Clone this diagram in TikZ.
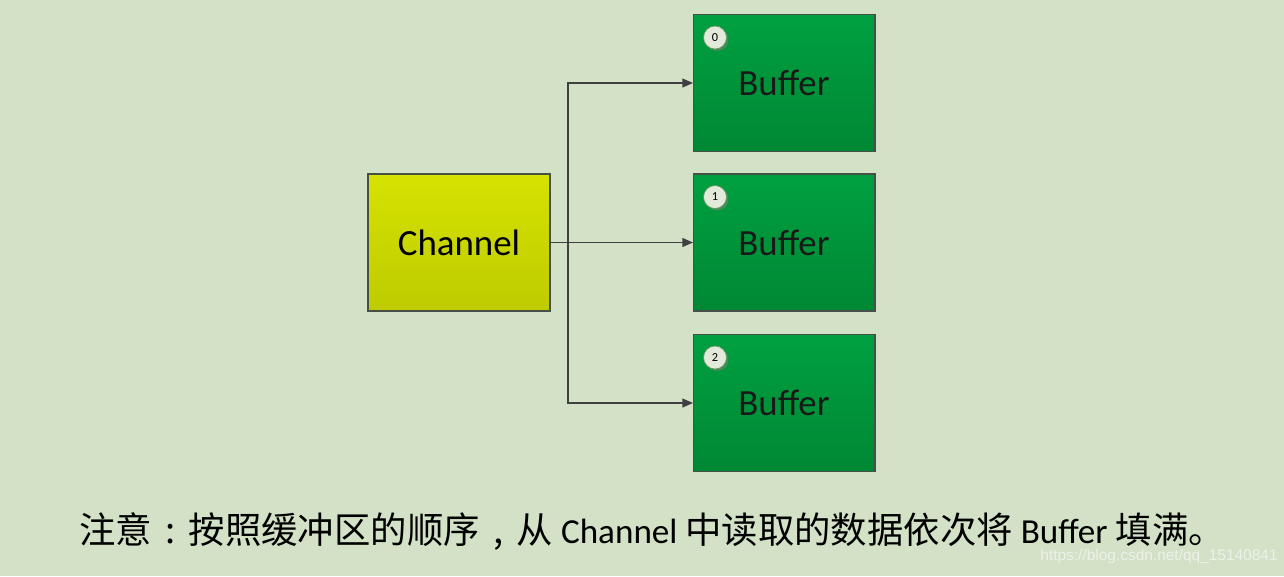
\documentclass[tikz,border=0pt]{standalone}
\usepackage{fontspec}
\setmainfont{Carlito}
\newfontfamily\cjk{Noto Sans CJK SC}
\newfontfamily\wmfont{Liberation Sans}
\usetikzlibrary{arrows.meta}

\definecolor{bgcol}{RGB}{211,226,199}
\definecolor{boxline}{RGB}{70,80,70}
\definecolor{chanhi}{RGB}{214,226,0}
\definecolor{chanlo}{RGB}{190,203,0}
\definecolor{bufhi}{RGB}{0,160,64}
\definecolor{buflo}{RGB}{0,136,52}
\definecolor{idxfill}{RGB}{226,234,218}
\definecolor{idxshade}{RGB}{70,140,90}
\definecolor{linecol}{RGB}{64,64,64}
\definecolor{wmcol}{RGB}{236,241,233}

% CJK text at a slightly larger size, punctuation centred in its cell
\newcommand{\hanzi}[1]{{\cjk\fontsize{20.7}{24}\selectfont #1}}
\newcommand{\cpunct}[1]{\makebox[1.05em][c]{\cjk\fontsize{20.7}{24}\selectfont #1}}

\tikzset{
  box/.style={draw=boxline, line width=0.6pt, minimum width=3.64cm,
    minimum height=2.74cm, inner sep=0pt, outer sep=0pt,
    font=\fontsize{21}{25}\selectfont},
  chanbox/.style={box, top color=chanhi, bottom color=chanlo},
  bufbox/.style={box, top color=bufhi, bottom color=buflo, text=black!90},
  idx/.style={circle, draw=gray!80!green, fill=idxfill, minimum size=0.46cm,
    inner sep=0pt, font=\fontsize{7}{8}\selectfont},
  link/.style={draw=linecol, line width=0.8pt, -{Triangle[length=6pt,width=5pt]}}
}

\begin{document}
\begin{tikzpicture}[x=0.02cm,y=-0.02cm]
		% Background
		\fill[bgcol] (0,0) rectangle (1284,576);

		% Channel
		\node[chanbox] (channel) at (459,242.5) {Channel};

		% Buffers with their index marks
		\foreach \i/\y in {0/83,1/242.5,2/403} {
			\node[bufbox] (buf\i) at (784,\y) {Buffer};
			\fill[idxshade] ([shift={(24,25)}]buf\i.north west) circle (11.5);
			\node[idx] (idx\i) at ([shift={(22,23)}]buf\i.north west) {\i};
		}

		% Connectors
		\coordinate (split) at (568,242.5);
		\draw[link] (channel.east) -- (buf1.west);
		\draw[link] (split) |- (buf0.west);
		\draw[link] (split) |- (buf2.west);

		% Note
		\node[font=\fontsize{20}{24}\selectfont, inner sep=0pt] (note) at (652,532)
		{\hanzi{注意}\cpunct{:}\hanzi{按照缓冲区的顺序}\cpunct{,}\hanzi{从} Channel \hanzi{中读取的数据依次将} Buffer \hanzi{填满。}};
		\node[font=\wmfont\fontsize{8.8}{10}\selectfont, text=wmcol] (mark) at (1159,556)
		{https://blog.csdn.net/qq\_15140841};
\end{tikzpicture}
\end{document}
